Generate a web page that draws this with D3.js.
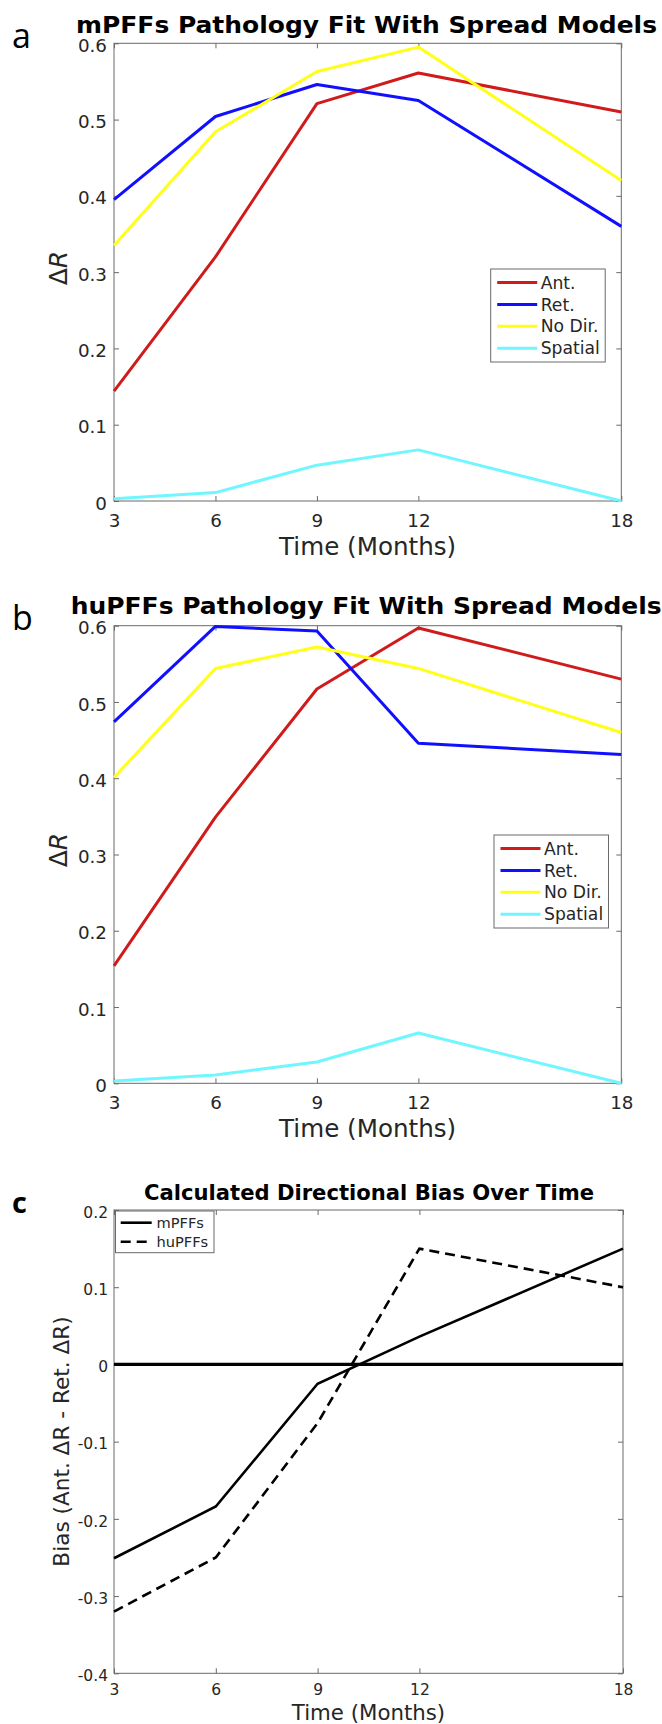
<!DOCTYPE html>
<html><head><meta charset="utf-8">
<script src="https://cdn.jsdelivr.net/npm/d3@7"></script>
<style>body{margin:0;background:#fff}</style>
</head><body>
<script>
// ---------- data ----------
const months = [3, 6, 9, 12, 18];
const seriesNames = ["Ant.", "Ret.", "No Dir.", "Spatial"];
const seriesColors = ["#d01b1b", "#1010ff", "#ffff1a", "#70f6ff"];
// panel a : mPFFs
const mAnt     = [0.144, 0.320, 0.521, 0.561, 0.510];
const mRet     = [0.395, 0.504, 0.546, 0.525, 0.360];
const mNoDir   = [0.335, 0.484, 0.563, 0.595, 0.420];
const mSpatial = [0.003, 0.011, 0.047, 0.067, 0.000];
// panel b : huPFFs
const hAnt     = [0.154, 0.349, 0.517, 0.597, 0.530];
const hRet     = [0.474, 0.599, 0.593, 0.446, 0.431];
const hNoDir   = [0.401, 0.544, 0.572, 0.544, 0.460];
const hSpatial = [0.003, 0.011, 0.028, 0.066, 0.000];
// panel c : bias
const biasNames = ["mPFFs", "huPFFs"];
const biasM = [-0.251, -0.184, -0.025, 0.036, 0.150];
const biasH = [-0.320, -0.250, -0.076, 0.150, 0.100];
// ticks
const xTicks = [3, 6, 9, 12, 18];
const yTicksAB = [0, 0.1, 0.2, 0.3, 0.4, 0.5, 0.6];
const yTicksC = [-0.4, -0.3, -0.2, -0.1, 0, 0.1, 0.2];
const titles = ["mPFFs Pathology Fit With Spread Models",
                "huPFFs Pathology Fit With Spread Models",
                "Calculated Directional Bias Over Time"];
const xLabel = "Time (Months)";
const letters = ["a", "b", "c"];

// ---------- drawing ----------
const W = 662, H = 1724;
const svg = d3.select("body").append("svg").attr("width", W).attr("height", H);
svg.append("rect").attr("width", W).attr("height", H).attr("fill", "#fff");

const FONT = "DejaVu Sans, sans-serif";
const TXT = "#262626";
const fmt = d => Math.abs(d) < 1e-9 ? "0" : d.toFixed(1);

function axes(g, x, y, o) {
  const [l, r] = x.range(), [b, t] = y.range();
  g.append("rect").attr("x", l).attr("y", t).attr("width", r - l).attr("height", b - t)
    .attr("fill", "none").attr("stroke", "#6a6a6a").attr("stroke-width", 1);
  const styleAx = sel => { sel.select(".domain").remove(); sel.selectAll("line").attr("stroke", "#6a6a6a"); };
  const la = g.append("g").attr("transform", `translate(${l},0)`)
    .call(d3.axisLeft(y).tickValues(o.yTicks).tickSize(-5).tickSizeOuter(0).tickPadding(o.ypad).tickFormat(fmt));
  styleAx(la);
  la.selectAll("text").attr("font-family", FONT).attr("font-size", o.fs).attr("fill", TXT).attr("dy", o.ydy);
  const ba = g.append("g").attr("transform", `translate(0,${b})`)
    .call(d3.axisBottom(x).tickValues(xTicks).tickSize(-5).tickSizeOuter(0).tickPadding(o.xpad).tickFormat(d3.format("d")));
  styleAx(ba);
  ba.selectAll("text").attr("font-family", FONT).attr("font-size", o.fs).attr("fill", TXT);
  const ra = g.append("g").attr("transform", `translate(${r},0)`)
    .call(d3.axisRight(y).tickValues(o.yTicks).tickSize(-5).tickSizeOuter(0).tickFormat(""));
  styleAx(ra);
  const ta = g.append("g").attr("transform", `translate(0,${t})`)
    .call(d3.axisTop(x).tickValues(xTicks).tickSize(-5).tickSizeOuter(0).tickFormat(""));
  styleAx(ta);
}

function colorPanel(o) {
  const g = svg.append("g");
  const x = d3.scaleLinear().domain([3, 18]).range([114, o.right]);
  const y = d3.scaleLinear().domain([0, 0.6]).range([o.bottom, o.top]);
  axes(g, x, y, {yTicks: yTicksAB, fs: 18.3, ypad: 7, xpad: 13, ydy: "0.44em"});
  const line = d3.line().x((d, i) => x(months[i])).y(d => y(d));
  o.series.forEach((s, k) => {
    g.append("path").attr("d", line(s)).attr("fill", "none")
      .attr("stroke", seriesColors[k]).attr("stroke-width", 3).attr("stroke-linejoin", "round");
  });
  // title
  g.append("text").attr("x", o.titleX).attr("y", o.titleY).text(o.title)
    .attr("font-family", FONT).attr("font-weight", "bold").attr("font-size", 23)
    .attr("textLength", o.titleLen).attr("lengthAdjust", "spacingAndGlyphs").attr("fill", "#000");
  // panel letter
  g.append("text").attr("x", 12).attr("y", o.letterY).text(o.letter)
    .attr("font-family", "Open Sans, sans-serif").attr("font-size", 34).attr("fill", "#000");
  // x label
  g.append("text").attr("x", (114 + o.right) / 2).attr("y", o.bottom + 54).text(xLabel)
    .attr("text-anchor", "middle").attr("font-family", FONT).attr("font-size", 24.6).attr("fill", TXT);
  // y label
  const yl = g.append("text").attr("transform", `translate(67,${o.yLabY}) rotate(-90)`)
    .attr("text-anchor", "middle").attr("font-family", FONT).attr("font-size", 25).attr("fill", TXT);
  yl.append("tspan").text("Δ");
  yl.append("tspan").attr("font-style", "italic").text("R");
  // legend
  const lg = g.append("g");
  lg.append("rect").attr("x", o.legX).attr("y", o.legY).attr("width", 114.5).attr("height", 93)
    .attr("fill", "#fff").attr("stroke", "#6a6a6a").attr("stroke-width", 1);
  seriesNames.forEach((nm, k) => {
    const yy = o.legY + 13.5 + k * 21.9;
    lg.append("line").attr("x1", o.legX + 6.5).attr("x2", o.legX + 46.5).attr("y1", yy).attr("y2", yy)
      .attr("stroke", seriesColors[k]).attr("stroke-width", 3);
    lg.append("text").attr("x", o.legX + 50).attr("y", yy).attr("dy", "0.36em").text(nm)
      .attr("font-family", FONT).attr("font-size", 17.2).attr("fill", TXT);
  });
}

colorPanel({series: [mAnt, mRet, mNoDir, mSpatial], top: 43.3, bottom: 501, right: 621.3,
  title: titles[0], titleX: 76, titleY: 33.3, titleLen: 581, letter: letters[0], letterY: 48,
  yLabY: 268, legX: 490.7, legY: 269});
colorPanel({series: [hAnt, hRet, hNoDir, hSpatial], top: 625.7, bottom: 1083.3, right: 621.3,
  title: titles[1], titleX: 70.7, titleY: 613.5, titleLen: 591, letter: letters[1], letterY: 630,
  yLabY: 850, legX: 494, legY: 835});

// panel c
(function () {
  const g = svg.append("g");
  const x = d3.scaleLinear().domain([3, 18]).range([114, 623]);
  const y = d3.scaleLinear().domain([-0.4, 0.2]).range([1673.3, 1210]);
  axes(g, x, y, {yTicks: yTicksC, fs: 15.5, ypad: 6, xpad: 10.5, ydy: "0.46em"});
  // zero line
  g.append("line").attr("x1", x(3)).attr("x2", x(18)).attr("y1", y(0)).attr("y2", y(0))
    .attr("stroke", "#000").attr("stroke-width", 3.2);
  const line = d3.line().x((d, i) => x(months[i])).y(d => y(d));
  g.append("path").attr("d", line(biasM)).attr("fill", "none").attr("stroke", "#000").attr("stroke-width", 2.6);
  g.append("path").attr("d", line(biasH)).attr("fill", "none").attr("stroke", "#000").attr("stroke-width", 2.6)
    .attr("stroke-dasharray", "10,6");
  g.append("text").attr("x", 144).attr("y", 1200).text(titles[2])
    .attr("font-family", FONT).attr("font-weight", "bold").attr("font-size", 21.5)
    .attr("textLength", 450).attr("lengthAdjust", "spacingAndGlyphs").attr("fill", "#000");
  g.append("text").attr("x", 12).attr("y", 1212.7).text(letters[2])
    .attr("font-family", "Open Sans, sans-serif").attr("font-weight", "bold").attr("font-size", 29).attr("fill", "#000");
  g.append("text").attr("x", (114 + 623) / 2).attr("y", 1720).text(xLabel)
    .attr("text-anchor", "middle").attr("font-family", FONT).attr("font-size", 21.3).attr("fill", TXT);
  g.append("text").attr("transform", `translate(69,1441.5) rotate(-90)`).text("Bias (Ant. ΔR - Ret. ΔR)")
    .attr("text-anchor", "middle").attr("font-family", FONT).attr("font-size", 21.6).attr("fill", TXT);
  // legend
  const lg = g.append("g");
  lg.append("rect").attr("x", 115.5).attr("y", 1211).attr("width", 98.5).attr("height", 41.7)
    .attr("fill", "#fff").attr("stroke", "#6a6a6a").attr("stroke-width", 1);
  [[biasNames[0], null], [biasNames[1], "10,6"]].forEach(([nm, dash], k) => {
    const yy = 1222.7 + k * 19;
    const ln = lg.append("line").attr("x1", 120.7).attr("x2", 151.7).attr("y1", yy).attr("y2", yy)
      .attr("stroke", "#000").attr("stroke-width", 2.6);
    if (dash) ln.attr("stroke-dasharray", dash);
    lg.append("text").attr("x", 156.5).attr("y", yy).attr("dy", "0.36em").text(nm)
      .attr("font-family", FONT).attr("font-size", 14.6).attr("fill", TXT);
  });
})();
</script>
</body></html>
